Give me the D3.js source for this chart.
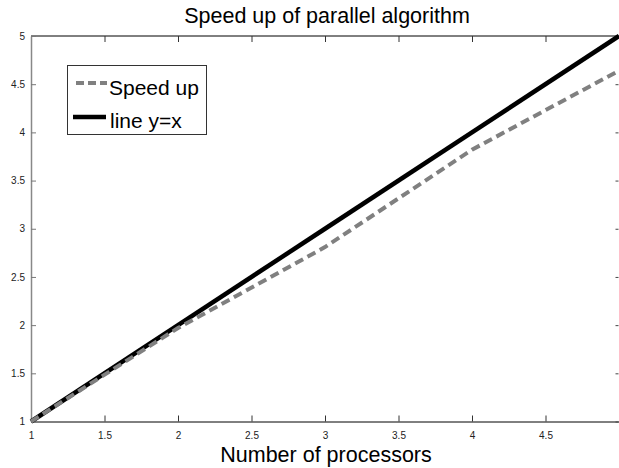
<!DOCTYPE html>
<html>
<head>
<meta charset="utf-8">
<script src="https://cdn.jsdelivr.net/npm/d3@7"></script>
<style>
  html, body { margin: 0; padding: 0; background: #fff; }
  svg { display: block; }
  text { font-family: "Liberation Sans", Arial, sans-serif; }
</style>
</head>
<body>
<svg id="chart" width="619" height="468"></svg>
<script>
// ---- data ----
const processors = [1, 2, 3, 4, 5];
const speedUp = [1, 1.97, 2.81, 3.82, 4.64];
const lineYX = [1, 2, 3, 4, 5];
const xTicks = [1, 1.5, 2, 2.5, 3, 3.5, 4, 4.5];
const yTicks = [1, 1.5, 2, 2.5, 3, 3.5, 4, 4.5, 5];
const seriesNames = ["Speed up", "line y=x"];
const titleText = "Speed up of parallel algorithm";
const xLabelText = "Number of processors";

// ---- layout ----
const mLeft = 31, mRight = 619, mTop = 36, mBottom = 421.5;

const svg = d3.select("#chart");
const x = d3.scaleLinear().domain([1, 5]).range([mLeft, mRight]);
const y = d3.scaleLinear().domain([1, 5]).range([mBottom, mTop]);

// frame: top line
svg.append("line").attr("x1", mLeft).attr("x2", mRight).attr("y1", mTop).attr("y2", mTop)
  .attr("stroke", "#000").attr("stroke-width", 1);

// bottom axis (ticks inward)
const xAxis = d3.axisBottom(x).tickValues(xTicks).tickSizeInner(-6).tickSizeOuter(0).tickPadding(10)
  .tickFormat(d3.format("~g"));
const gx = svg.append("g").attr("transform", `translate(0,${mBottom})`).call(xAxis);
gx.select(".domain").attr("stroke", "#000");
gx.selectAll(".tick line").attr("stroke", "#333");
gx.selectAll(".tick text").attr("font-size", 10).attr("fill", "#222")
  .attr("font-family", "'Liberation Sans', Arial, sans-serif");

// top ticks
const xTop = d3.axisTop(x).tickValues(xTicks).tickSizeInner(-6).tickSizeOuter(0).tickFormat("");
const gt = svg.append("g").attr("transform", `translate(0,${mTop})`).call(xTop);
gt.select(".domain").remove();
gt.selectAll(".tick line").attr("stroke", "#333");

// left axis (gray, ticks inward)
const yAxis = d3.axisLeft(y).tickValues(yTicks).tickSizeInner(-5).tickSizeOuter(0).tickPadding(6)
  .tickFormat(d3.format("~g"));
const gy = svg.append("g").attr("transform", `translate(${mLeft},0)`).call(yAxis);
gy.select(".domain").attr("stroke", "#888").attr("stroke-width", 1.5);
gy.selectAll(".tick line").attr("stroke", "#777");
gy.selectAll(".tick text").attr("font-size", 10).attr("fill", "#222")
  .attr("font-family", "'Liberation Sans', Arial, sans-serif");

// right ticks
const yRight = d3.axisRight(y).tickValues(yTicks).tickSizeInner(-3).tickSizeOuter(0).tickFormat("");
const gr = svg.append("g").attr("transform", `translate(${mRight - 0.5},0)`).call(yRight);
gr.select(".domain").remove();
gr.selectAll(".tick line").attr("stroke", "#444");

// lines
const line = d3.line().x((d, i) => x(processors[i])).y(d => y(d));

svg.append("clipPath").attr("id", "plotclip")
  .append("rect").attr("x", mLeft - 3).attr("y", mTop - 3)
  .attr("width", mRight - mLeft + 6).attr("height", mBottom - mTop + 6);

svg.append("path").datum(lineYX).attr("d", line)
  .attr("fill", "none").attr("stroke", "#000").attr("stroke-width", 4.5)
  .attr("clip-path", "url(#plotclip)");

svg.append("path").datum(speedUp).attr("d", line)
  .attr("fill", "none").attr("stroke", "#808080").attr("stroke-width", 4)
  .attr("stroke-dasharray", "9,5")
  .attr("clip-path", "url(#plotclip)");

// legend
const lg = svg.append("g");
lg.append("rect").attr("x", 67.5).attr("y", 65.5).attr("width", 139).attr("height", 69)
  .attr("fill", "#fff").attr("stroke", "#333").attr("stroke-width", 1);
lg.append("line").attr("x1", 76).attr("x2", 107).attr("y1", 83).attr("y2", 83)
  .attr("stroke", "#808080").attr("stroke-width", 4).attr("stroke-dasharray", "8,4");
lg.append("text").attr("x", 109).attr("y", 95).attr("font-size", 21).attr("fill", "#000")
  .text(seriesNames[0]);
lg.append("line").attr("x1", 73).attr("x2", 106).attr("y1", 117).attr("y2", 117)
  .attr("stroke", "#000").attr("stroke-width", 4.5);
lg.append("text").attr("x", 110).attr("y", 128).attr("font-size", 21).attr("fill", "#000")
  .text(seriesNames[1]);

// title & label
svg.append("text").attr("x", (mLeft + mRight) / 2 + 2).attr("y", 23).attr("text-anchor", "middle")
  .attr("font-size", 21.5).attr("fill", "#000").text(titleText);
svg.append("text").attr("x", (mLeft + mRight) / 2 + 1).attr("y", 462).attr("text-anchor", "middle")
  .attr("font-size", 21.5).attr("fill", "#000").text(xLabelText);
</script>
</body>
</html>
